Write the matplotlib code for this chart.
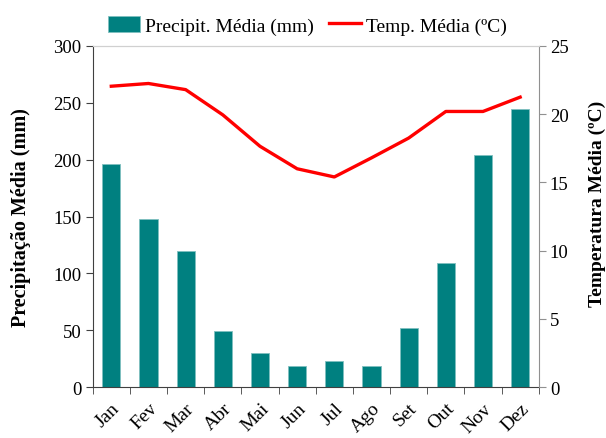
import numpy as np
import matplotlib
matplotlib.use("Agg")
import matplotlib.pyplot as plt
from matplotlib.ticker import FixedLocator

plt.rcParams['font.family'] = ['Liberation Serif', 'DejaVu Serif']

months = ["Jan", "Fev", "Mar", "Abr", "Mai", "Jun", "Jul", "Ago", "Set", "Out", "Nov", "Dez"]
precip = [196, 148, 120, 49.5, 29.6, 18.5, 23.2, 18.5, 52.2, 109.4, 204.5, 244.5]
temp = [22.05, 22.25, 21.8, 19.95, 17.65, 16.0, 15.4, 16.8, 18.25, 20.2, 20.2, 21.25]

teal = "#008080"
red = "#ff0000"

fig = plt.figure(figsize=(6.06, 4.39), dpi=100)
ax = fig.add_axes([0.153, 0.116, 0.736, 0.777])
ax2 = ax.twinx()

x = np.arange(len(months))
bars = ax.bar(x, precip, width=0.49, color=teal, edgecolor="#7fbfbf", linewidth=0.6,
              label="Precipit. Média (mm)", zorder=2)
line, = ax2.plot(x, temp, color=red, lw=2.4, label="Temp. Média (ºC)", zorder=3)

ax.set_xlim(-0.5, len(months) - 0.5)
ax.set_ylim(0, 300)
ax.set_yticks(range(0, 301, 50))
ax2.set_ylim(0, 25)
ax2.set_yticks(range(0, 26, 5))

ax.set_xticks(x)
ax.set_xticklabels(months, rotation=45, ha="right", rotation_mode="anchor", fontsize=14)
ax.tick_params(axis="x", length=0, pad=9)
ax.xaxis.set_minor_locator(FixedLocator(np.arange(-0.5, len(months), 1.0)))
ax.tick_params(axis="x", which="minor", length=5, color="#404040", direction="out")

ax.tick_params(axis="y", length=5, color="#404040", labelsize=13.5, pad=3)
ax2.tick_params(axis="y", length=5, color="#909090", labelsize=13.5, pad=3)

ax.spines["left"].set_color("#404040")
ax.spines["bottom"].set_color("#404040")
ax.spines["top"].set_color("#d0d0d0")
ax2.spines["top"].set_color("#d0d0d0")
ax2.spines["right"].set_color("#909090")
ax2.spines["left"].set_visible(False)
ax2.spines["bottom"].set_visible(False)
ax.spines["right"].set_visible(False)

ax.set_ylabel("Precipitação Média (mm)", fontsize=14.5, fontweight="bold", labelpad=16)
ax2.set_ylabel("Temperatura Média (ºC)", fontsize=14, fontweight="bold")
ax2.yaxis.set_label_coords(1.112, 0.54)

fig.legend([bars, line], ["Precipit. Média (mm)", "Temp. Média (ºC)"],
           loc="center", bbox_to_anchor=(0.507, 0.94), ncol=2, frameon=False,
           fontsize=14, handlelength=1.65, handleheight=0.9, columnspacing=0.8,
           handletextpad=0.25)

fig.savefig("out.png", dpi=100)
